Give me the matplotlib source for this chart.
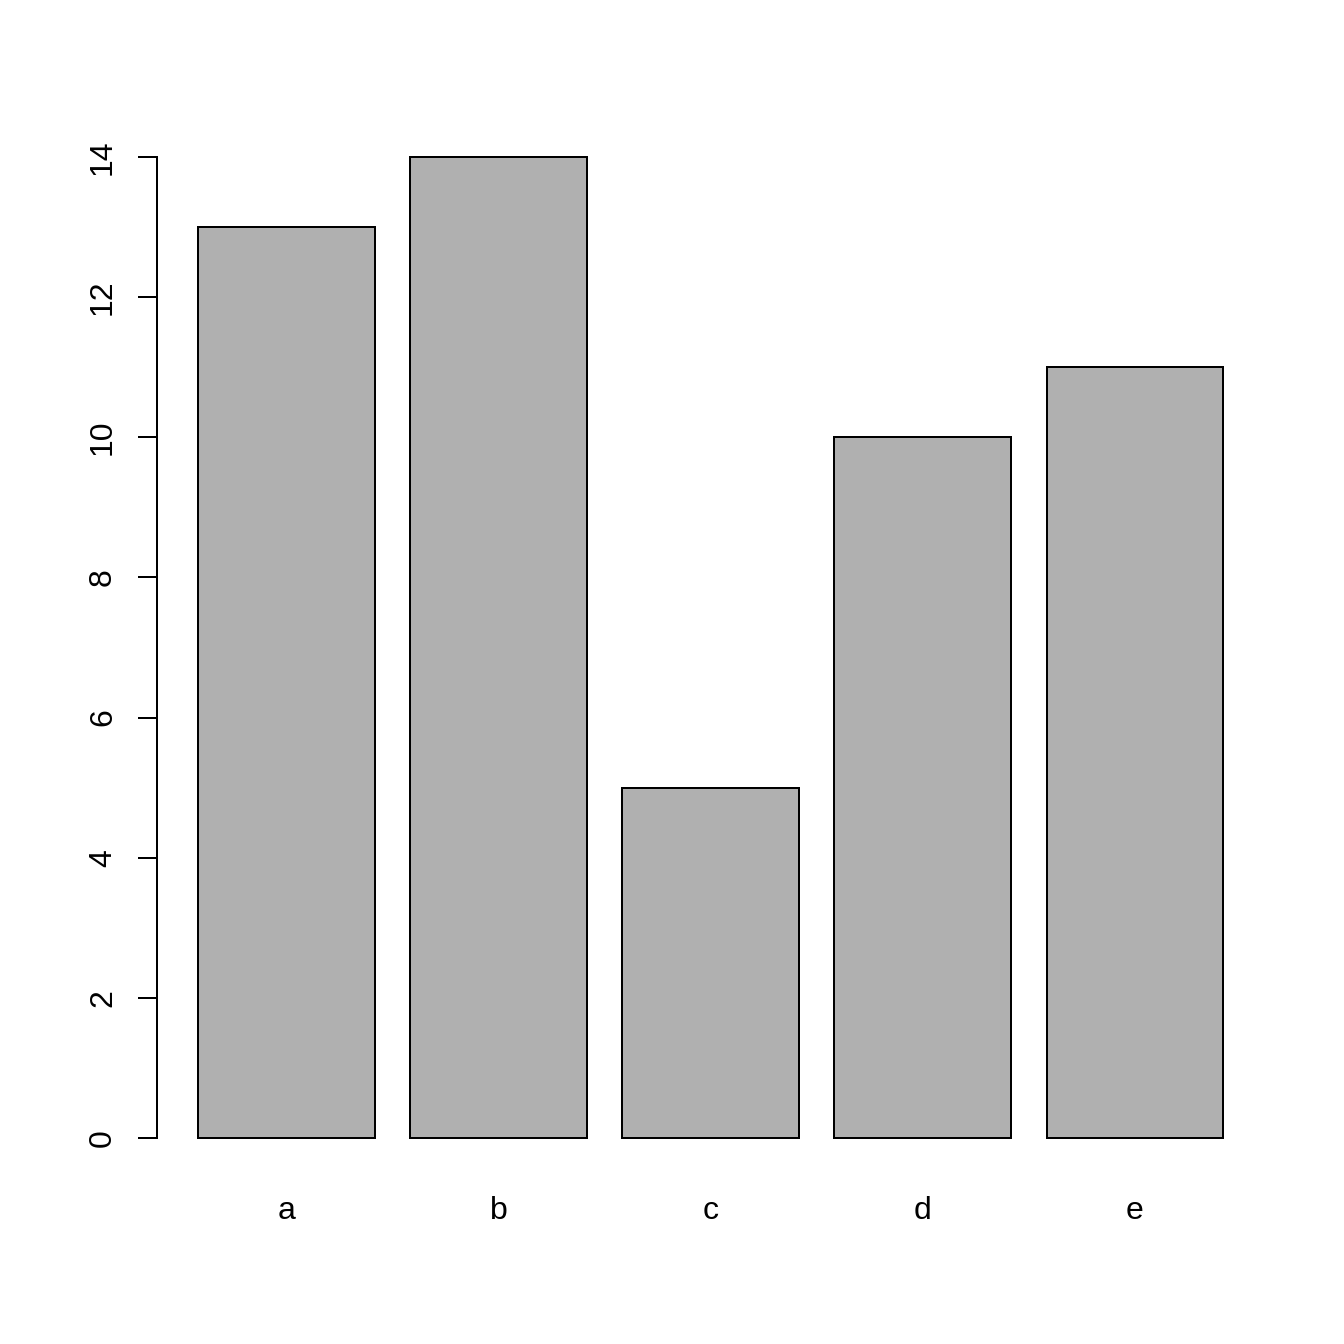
import matplotlib
matplotlib.use('Agg')
import matplotlib.pyplot as plt

plt.rcParams['font.family'] = ['Liberation Sans', 'DejaVu Sans']
plt.rcParams['font.size'] = 12

labels = ['a', 'b', 'c', 'd', 'e']
values = [13, 14, 5, 10, 11]

# R-style barplot geometry: width 1, space 0.2
width = 1.0
space = 0.2
centers = [space + width / 2 + i * (width + space) for i in range(len(values))]

fig = plt.figure(figsize=(7, 7), dpi=192)
W = H = 1344
ax = fig.add_axes([157 / W, 1 - 1177.2 / H, (1264.4 - 157) / W, (1177.2 - 117.8) / H])

ax.bar(centers, values, width=width, color='#B0B0B0', edgecolor='black', linewidth=0.75)

xr = len(values) * (width + space)  # right edge of last bar
pad = (xr - space) * 0.04
ax.set_xlim(space - pad, xr + pad)
ymax = max(values)
ax.set_ylim(-ymax * 0.04, ymax * 1.04)

for s in ['top', 'right', 'bottom']:
    ax.spines[s].set_visible(False)
ax.spines['left'].set_bounds(0, 14)
ax.spines['left'].set_linewidth(0.75)

ax.set_yticks([0, 2, 4, 6, 8, 10, 12, 14])
ax.tick_params(axis='y', length=7.1, width=0.75, pad=7.5, labelsize=12)
for t in ax.get_yticklabels():
    t.set_rotation(90)
    t.set_va('center')

ax.set_xticks(centers)
ax.set_xticklabels(labels)
ax.tick_params(axis='x', length=0, pad=7.1, labelsize=12)

fig.savefig('out.png', dpi=192, facecolor='white')
